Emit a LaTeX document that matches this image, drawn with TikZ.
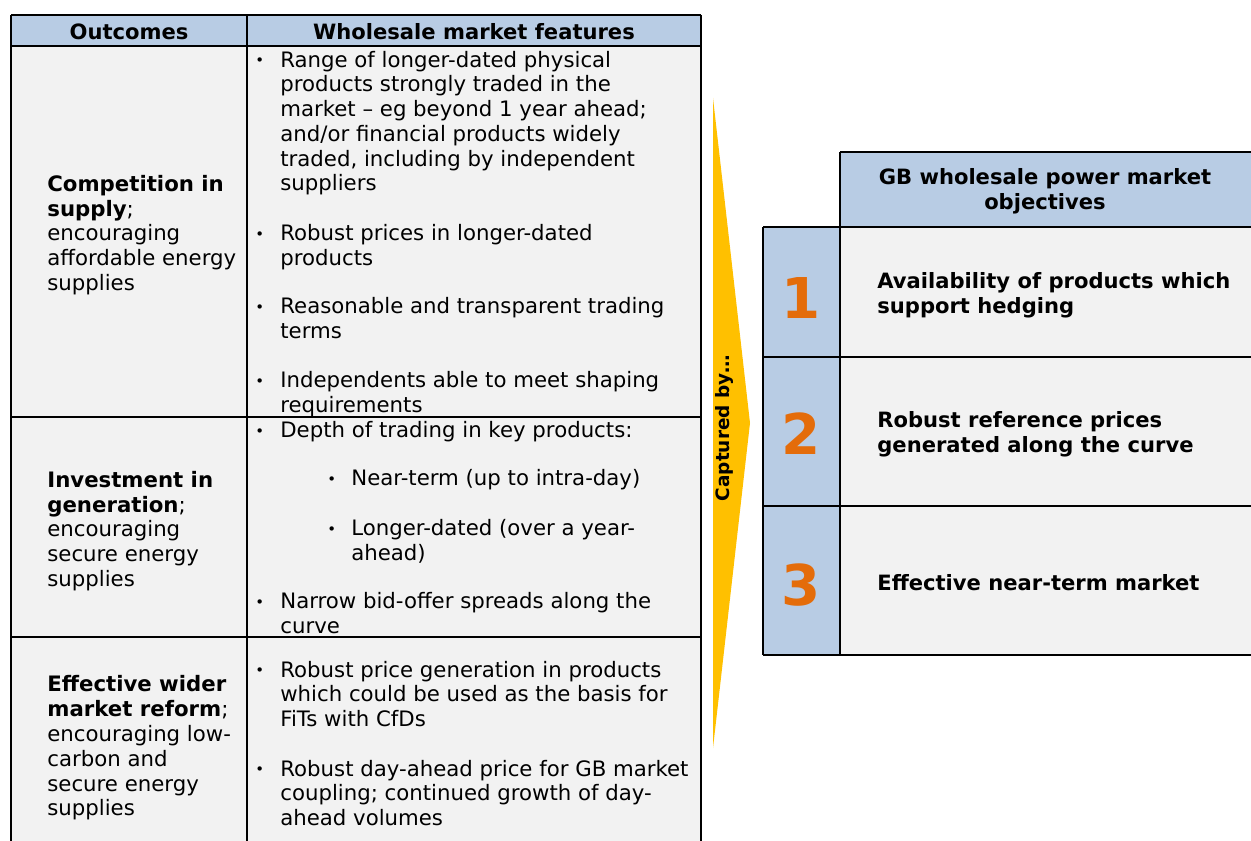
\documentclass[tikz,border=0pt]{standalone}
\usepackage{fontspec}
\setmainfont{DejaVu Sans}
\definecolor{hdrblue}{HTML}{B8CCE4}
\definecolor{cellgray}{HTML}{F2F2F2}
\definecolor{numorange}{HTML}{E46C0A}
\definecolor{arrowyellow}{HTML}{FFC000}
\newcommand{\bitem}[2][0.5cm]{\begin{tabular}[t]{@{}p{#1}@{}l@{}}\raisebox{0.8pt}{\fontsize{8.5}{8.5}\selectfont•}&\begin{tabular}[t]{@{}l@{}}#2\end{tabular}\end{tabular}}
\tikzstyle{every node}=[inner sep=0pt, font=\fontsize{12.1}{14.1}\selectfont]
\tikzstyle{hdr}=[font=\fontsize{12}{14.1}\selectfont\bfseries, align=center]
\tikzstyle{outc}=[anchor=west, align=left]
\tikzstyle{feat}=[anchor=west]
\tikzstyle{num}=[font=\fontsize{32}{36}\selectfont\bfseries, text=numorange]
\tikzstyle{obj}=[anchor=west, align=left, font=\fontsize{12}{14.1}\selectfont\bfseries]
\tikzstyle{grid}=[draw, line width=0.8pt]

\begin{document}
\begin{tikzpicture}[x=0.02cm, y=-0.02cm]
    \useasboundingbox (0,0) rectangle (1251,841);
    \fill[hdrblue] (11,15) rectangle (701,46);
    \fill[cellgray] (11,46) rectangle (701,841);
    \fill[hdrblue] (840,152) rectangle (1251,227);
    \fill[hdrblue] (763,227) rectangle (840,655);
    \fill[cellgray] (840,227) rectangle (1251,655);
    \fill[arrowyellow] (713,98) -- (750,423) -- (713,748) -- cycle;
    \path[grid]
    (11,15) -- (701,15)
    (11,46) -- (701,46)
    (11,417) -- (701,417)
    (11,637) -- (701,637)
    (11,15) -- (11,841)
    (247,15) -- (247,841)
    (701,15) -- (701,841)
    (840,152) -- (1251,152)
    (763,227) -- (1251,227)
    (763,357) -- (1251,357)
    (763,506) -- (1251,506)
    (763,655) -- (1251,655)
    (763,227) -- (763,655)
    (840,152) -- (840,655)
	;
    \node[hdr] (hout) at (129,32) {Outcomes};
    \node[hdr] (hfeat) at (474,32) {Wholesale market features};
    \node[outc] (o1) at (47,235) {\textbf{Competition in}\\\textbf{supply};\\encouraging\\affordable energy\\supplies};
    \node[outc] (o2) at (47,531) {\textbf{Investment in}\\\textbf{generation};\\encouraging\\secure energy\\supplies};
    \node[outc] (o3) at (47,748) {\textbf{Effective wider}\\\textbf{market reform};\\encouraging low-\\carbon and\\secure energy\\supplies};
    \node[feat] (f1) at (255,124) {\bitem{Range of longer-dated physical\\products strongly traded in the\\market -- eg beyond 1 year ahead;\\and/or financial products widely\\traded, including by independent\\suppliers}};
    \node[feat] (f2) at (255,248) {\bitem{Robust prices in longer-dated\\products}};
    \node[feat] (f3) at (255,321) {\bitem{Reasonable and transparent trading\\terms}};
    \node[feat] (f4) at (255,395) {\bitem{Independents able to meet shaping\\requirements}};
    \node[feat] (f5) at (255,433) {\bitem{Depth of trading in key products:}};
    \node[feat] (f5a) at (327,481) {\bitem[0.48cm]{Near-term (up to intra-day)}};
    \node[feat] (f5b) at (327,543) {\bitem[0.48cm]{Longer-dated (over a year-\\ahead)}};
    \node[feat] (f6) at (255,616) {\bitem{Narrow bid-offer spreads along the\\curve}};
    \node[feat] (f7) at (255,697) {\bitem{Robust price generation in products\\which could be used as the basis for\\FiTs with CfDs}};
    \node[feat] (f8) at (255,796) {\bitem{Robust day-ahead price for GB market\\coupling; continued growth of day-\\ahead volumes}};
    \node[font=\fontsize{10.5}{12}\selectfont\bfseries, rotate=90] (capt) at (724,428) {Captured by…};
    \node[hdr] (hobj) at (1045,191) {GB wholesale power market\\objectives};
    \node[num] (n1) at (801,298) {1};
    \node[num] (n2) at (801,434) {2};
    \node[num] (n3) at (801,585) {3};
    \node[obj] (r1) at (877,295) {Availability of products which\\support hedging};
    \node[obj] (r2) at (877,434) {Robust reference prices\\generated along the curve};
    \node[obj] (r3) at (877,583) {Effective near-term market};
  \end{tikzpicture}
\end{document}
